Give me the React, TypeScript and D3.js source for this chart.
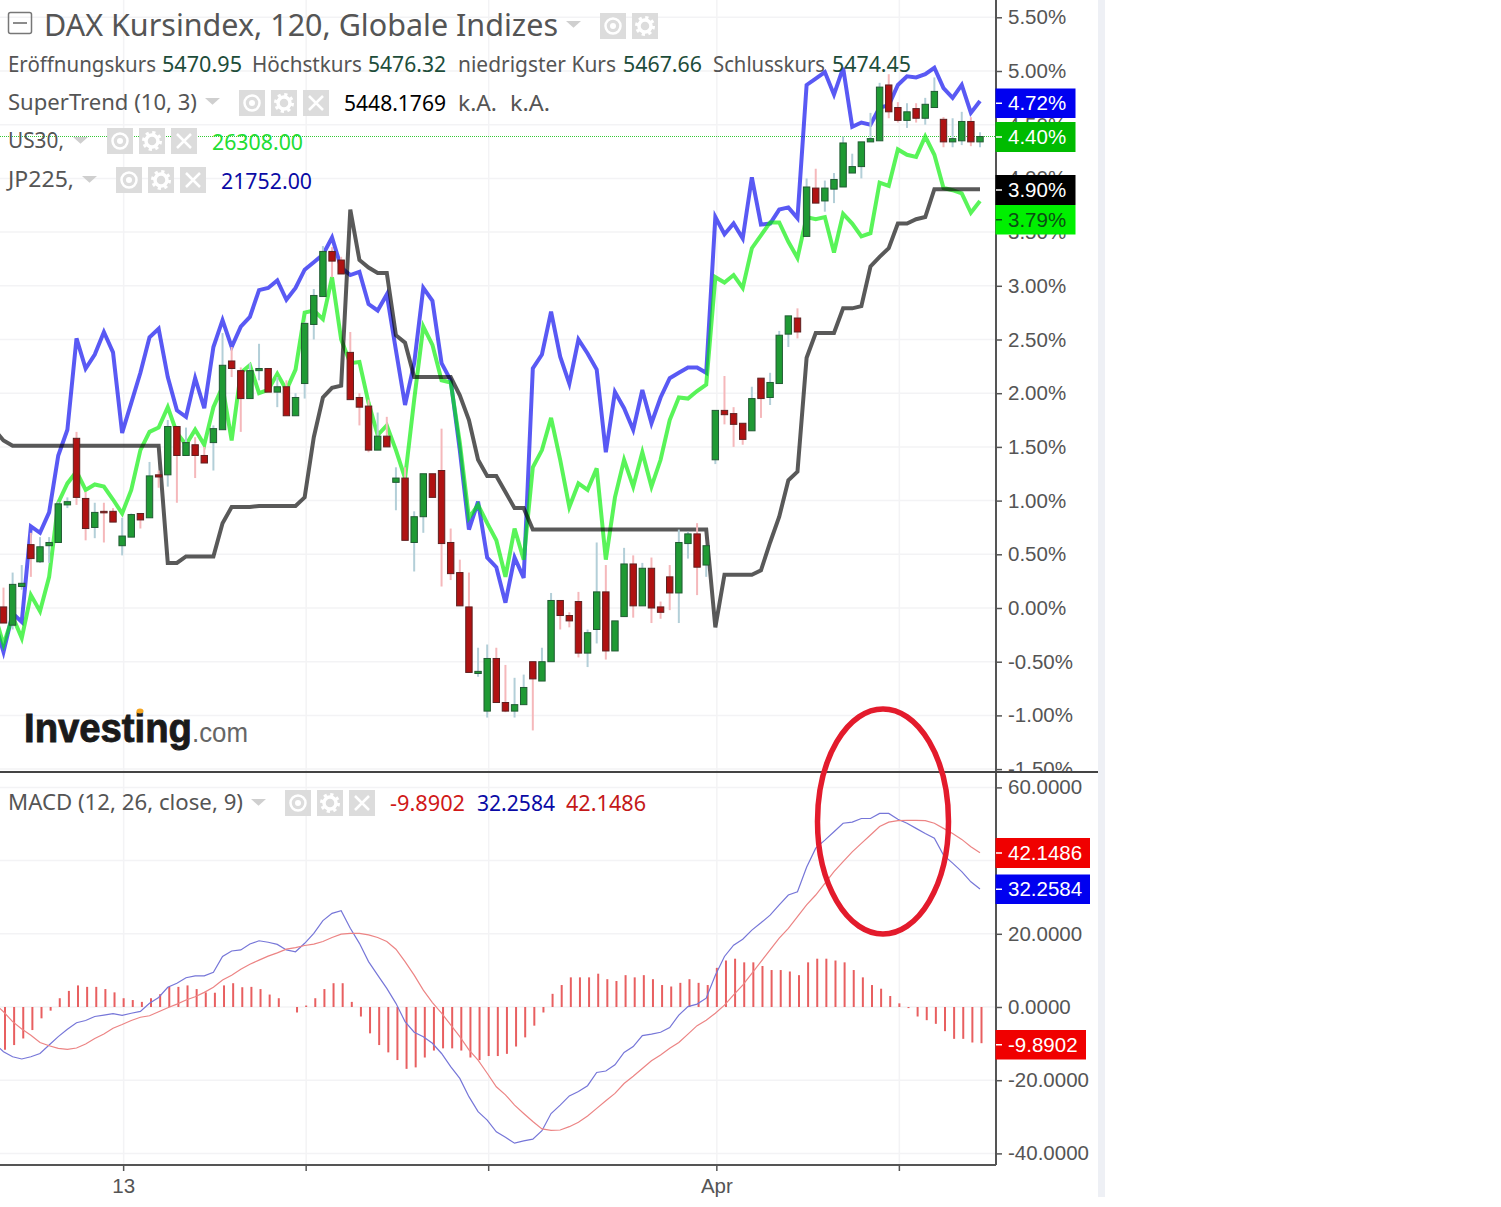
import { useEffect, useRef } from "react";
import * as d3 from "d3";

const WIDTH = 1501;
const HEIGHT = 1207;

// DAX candles, % change scale
const opens = [
  0.01, -0.16, 0.2, 0.59, 0.43, 0.58, 0.61, 0.96, 1.58, 1.02,
  0.75, 0.9, 0.9, 0.58, 0.66, 0.88, 0.84, 1.24, 1.24, 1.69,
  1.42, 1.52, 1.42, 1.54, 1.66, 2.3, 2.21, 1.95, 2.21, 2.23,
  2.01, 2.06, 1.79, 2.09, 2.64, 2.9, 3.32, 3.24, 2.38, 1.96,
  1.88, 1.47, 1.6, 1.17, 1.21, 0.61, 0.85, 1.25, 1.28, 0.61,
  0.33, 0.01, -0.61, -0.96, -0.47, -0.88, -0.96, -0.9, -0.5, -0.68,
  -0.5, 0.07, -0.07, 0.06, -0.42, -0.2, 0.15, -0.4, -0.08, 0.41,
  0.02, 0.37, 0.01, 0.29, 0.14, 0.6, 0.69, 0.4, 1.38, 1.84,
  1.81, 1.72, 1.65, 2.14, 1.96, 2.09, 2.55, 2.7, 3.46, 3.91,
  3.79, 3.9, 3.92, 4.05, 4.11, 4.34, 4.35, 4.87, 4.66, 4.54,
  4.65, 4.56, 4.66, 4.55, 4.34, 4.35, 4.53, 4.34,
];
const highs = [
  0.19, 0.33, 0.4, 0.7, 0.66, 0.66, 0.99, 1.03, 1.64, 1.08,
  0.98, 0.98, 0.93, 0.84, 0.88, 0.88, 1.36, 1.28, 1.75, 1.69,
  1.68, 1.59, 1.5, 1.7, 2.56, 2.43, 2.24, 2.28, 2.46, 2.23,
  2.15, 2.12, 2.0, 2.66, 2.97, 3.37, 3.36, 3.27, 2.57, 2.0,
  1.94, 1.82, 1.78, 1.31, 1.31, 0.9, 1.25, 1.25, 1.67, 0.74,
  0.45, 0.33, -0.37, -0.34, -0.37, -0.53, -0.65, -0.62, -0.5, -0.37,
  0.14, 0.07, -0.04, 0.15, -0.2, 0.61, 0.4, -0.12, 0.56, 0.49,
  0.42, 0.47, 0.06, 0.4, 0.73, 0.71, 0.79, 0.58, 1.84, 2.16,
  1.87, 1.72, 2.06, 2.14, 2.19, 2.58, 2.72, 2.79, 4.0, 4.09,
  3.98, 4.05, 4.39, 4.23, 4.34, 4.61, 4.89, 4.97, 4.71, 4.7,
  4.7, 4.75, 4.94, 4.57, 4.56, 4.62, 4.57, 4.43,
];
const lows = [
  -0.14, -0.2, 0.17, 0.29, 0.42, 0.42, 0.61, 0.93, 0.96, 0.63,
  0.65, 0.61, 0.8, 0.49, 0.66, 0.74, 0.84, 1.12, 1.13, 0.98,
  1.42, 1.21, 1.35, 1.28, 1.66, 2.15, 1.64, 1.95, 2.12, 2.01,
  1.87, 1.79, 1.79, 1.95, 2.5, 2.9, 3.08, 3.11, 1.94, 1.7,
  1.45, 1.47, 1.5, 0.91, 0.63, 0.34, 0.7, 1.03, 0.2, 0.26,
  0.02, -0.6, -0.64, -1.02, -0.88, -0.97, -1.02, -0.9, -1.14, -0.68,
  -0.5, -0.2, -0.18, -0.46, -0.55, -0.33, -0.48, -0.4, -0.08, -0.09,
  0.02, -0.14, -0.1, -0.02, -0.14, 0.46, 0.12, 0.29, 1.34, 1.71,
  1.5, 1.52, 1.65, 1.77, 1.89, 2.09, 2.43, 2.51, 3.46, 3.77,
  3.69, 3.77, 3.92, 4.05, 4.0, 4.34, 4.35, 4.56, 4.52, 4.47,
  4.52, 4.5, 4.66, 4.29, 4.29, 4.31, 4.3, 4.29,
];
const closes = [
  -0.14, 0.22, 0.23, 0.46, 0.57, 0.61, 0.97, 0.99, 1.03, 0.74,
  0.89, 0.89, 0.8, 0.67, 0.87, 0.82, 1.23, 1.22, 1.69, 1.42,
  1.54, 1.42, 1.35, 1.67, 2.26, 2.23, 1.95, 2.21, 2.23, 2.01,
  2.06, 1.79, 1.96, 2.65, 2.91, 3.32, 3.23, 3.11, 1.94, 1.87,
  1.47, 1.6, 1.5, 1.21, 0.63, 0.85, 1.25, 1.03, 0.6, 0.32,
  0.02, -0.6, -0.59, -0.47, -0.88, -0.96, -0.9, -0.74, -0.66, -0.5,
  0.07, -0.07, -0.12, -0.42, -0.23, 0.15, -0.4, -0.12, 0.41, 0.02,
  0.37, 0.0, -0.04, 0.14, 0.61, 0.69, 0.38, 0.58, 1.84, 1.8,
  1.71, 1.57, 1.95, 1.95, 2.1, 2.54, 2.72, 2.57, 3.92, 3.77,
  3.91, 3.99, 4.33, 4.11, 4.34, 4.37, 4.85, 4.62, 4.54, 4.62,
  4.56, 4.69, 4.81, 4.34, 4.37, 4.53, 4.34, 4.39,
];

// the line series start one bar before the first visible candle
const jp225 = [
  -0.12, -0.41, -0.05, -0.13, 0.76, 0.7, 0.89, 1.42, 1.66, 2.51, 2.23,
  2.36, 2.57, 2.38, 1.63, 1.91, 2.19, 2.52, 2.6, 2.15, 1.84,
  1.78, 2.14, 1.86, 2.43, 2.68, 2.43, 2.62, 2.71, 2.96, 2.98,
  3.05, 2.87, 2.98, 3.15, 3.22, 3.29, 3.45, 3.17, 3.1, 3.13,
  2.83, 2.77, 2.92, 2.4, 1.89, 2.28, 2.98, 2.86, 2.28, 2.12,
  1.47, 0.73, 0.99, 0.47, 0.38, 0.05, 0.47, 0.28, 2.23, 2.36,
  2.76, 2.34, 2.09, 2.5, 2.37, 2.22, 1.45, 2.01, 1.86, 1.66,
  2.03, 1.72, 1.96, 2.14, 2.19, 2.24, 2.24, 2.19, 3.64, 3.48,
  3.58, 3.44, 4.01, 3.57, 3.58, 3.71, 3.73, 3.63, 4.87, 4.93,
  4.99, 4.78, 5.03, 4.48, 4.52, 4.5, 4.66, 4.68, 4.87, 4.95,
  4.94, 4.97, 5.03, 4.84, 4.75, 4.87, 4.61, 4.72,
];
const us30 = [
  -0.05, -0.34, -0.08, -0.28, 0.12, -0.03, 0.29, 0.98, 1.16, 1.27, 1.1,
  1.15, 1.13, 1.01, 0.88, 1.1, 1.47, 1.64, 1.68, 1.87, 1.63,
  1.52, 1.66, 1.52, 1.87, 2.06, 1.56, 2.19, 2.26, 2.0, 2.03,
  2.18, 2.03, 2.22, 2.75, 2.77, 2.69, 3.08, 2.5, 2.28, 2.29,
  1.91, 1.61, 1.7, 1.47, 1.21, 1.94, 2.62, 2.45, 2.12, 2.1,
  1.54, 0.84, 0.96, 0.79, 0.63, 0.29, 0.74, 0.45, 1.31, 1.47,
  1.77, 1.38, 0.94, 1.16, 1.1, 1.3, 0.45, 1.03, 1.38, 1.13,
  1.45, 1.13, 1.38, 1.75, 1.96, 1.95, 2.02, 2.08, 3.08, 3.03,
  3.1, 2.98, 3.35, 3.47, 3.59, 3.59, 3.41, 3.26, 3.64, 3.62,
  3.64, 3.31, 3.67, 3.58, 3.46, 3.49, 3.96, 3.93, 4.27, 4.22,
  4.2, 4.39, 4.22, 3.91, 3.89, 3.86, 3.68, 3.79,
];
const superTrend = [
  1.66, 1.56, 1.51, 1.51, 1.51, 1.51, 1.51, 1.51, 1.51, 1.51, 1.51,
  1.51, 1.51, 1.51, 1.51, 1.51, 1.51, 1.51, 1.51, 0.42, 0.42,
  0.48, 0.48, 0.48, 0.48, 0.79, 0.94, 0.94, 0.94, 0.95, 0.95,
  0.95, 0.95, 0.95, 1.03, 1.59, 1.96, 2.05, 2.07, 3.71, 3.24,
  3.17, 3.12, 3.12, 2.54, 2.47, 2.15, 2.15, 2.15, 2.15, 2.15,
  1.98, 1.75, 1.38, 1.23, 1.23, 1.08, 0.93, 0.93, 0.73, 0.73,
  0.73, 0.73, 0.73, 0.73, 0.73, 0.73, 0.73, 0.73, 0.73, 0.73,
  0.73, 0.73, 0.73, 0.73, 0.73, 0.73, 0.73, 0.73, -0.18, 0.31,
  0.31, 0.31, 0.31, 0.35, 0.61, 0.85, 1.19, 1.27, 2.33, 2.56,
  2.56, 2.56, 2.79, 2.79, 2.81, 3.18, 3.27, 3.35, 3.58, 3.58,
  3.62, 3.64, 3.9, 3.9, 3.9, 3.9, 3.9, 3.9,
];

const macd = [
  -10.0, -12.2, -13.6, -14.2, -13.6, -12.7, -10.4, -8.1, -6.1, -4.3, -3.7,
  -2.6, -2.2, -1.8, -2.3, -1.7, -1.2, 1.0, 2.6, 5.4, 6.5,
  8.0, 8.5, 8.5, 9.5, 13.8, 15.3, 15.6, 17.2, 18.1, 17.7,
  17.1, 15.6, 15.1, 17.4, 20.1, 23.6, 25.6, 26.3, 21.5, 17.4,
  12.4, 8.7, 5.1, 1.0, -4.0, -6.9, -8.1, -9.9, -12.7, -16.3,
  -19.5, -24.5, -28.6, -30.9, -34.1, -35.6, -37.2, -36.6, -36.1, -33.8,
  -29.1, -26.8, -24.3, -23.1, -21.5, -17.9, -17.5, -15.8, -12.4, -10.8,
  -7.8, -7.4, -6.9, -5.6, -2.2, 0.1, 0.8, 2.4, 8.7, 13.8,
  16.9, 18.5, 21.0, 23.0, 25.1, 27.9, 30.6, 31.5, 38.2, 43.4,
  45.6, 47.9, 50.2, 50.5, 51.5, 51.5, 52.9, 52.9, 51.3, 50.2,
  48.8, 47.4, 46.1, 41.5, 39.3, 37.0, 34.2, 32.26,
];
const signal = [
  1.0, -1.3, -4.0, -6.0, -7.7, -9.7, -10.6, -11.3, -11.6, -11.2, -10.1,
  -8.6, -7.4, -5.8, -4.8, -3.7, -2.8, -2.4, -1.3, -0.2, 0.8,
  1.9, 2.8, 4.0, 5.4, 7.4, 8.7, 10.3, 11.7, 12.8, 13.9,
  14.8, 15.8, 16.2, 16.8, 17.2, 17.9, 19.0, 19.9, 20.1, 20.1,
  19.7, 19.0, 17.9, 15.8, 12.4, 8.7, 4.6, 1.2, -1.7, -4.9,
  -8.1, -11.7, -14.5, -18.1, -21.8, -24.0, -26.8, -29.1, -31.3, -33.3,
  -33.7, -33.6, -32.7, -31.5, -29.8, -27.7, -25.6, -23.6, -20.9, -18.9,
  -16.8, -14.7, -13.1, -11.3, -9.7, -7.4, -5.1, -3.6, -1.7, 0.5,
  3.3, 6.0, 9.2, 12.4, 15.6, 18.8, 21.5, 24.7, 27.9, 30.6,
  33.8, 37.0, 39.7, 42.4, 44.7, 47.0, 49.3, 50.5, 50.9, 51.0,
  51.0, 50.9, 50.2, 48.8, 47.4, 45.8, 43.8, 42.15,
];
const histogram = [
  -11.7, -10.4, -8.6, -6.3, -3.1, -1.0, 2.4, 4.4, 5.9, 5.5,
  5.5, 4.9, 4.0, 2.4, 1.9, 1.4, 2.4, 3.5, 5.5, 5.5,
  5.9, 4.9, 4.0, 3.9, 5.9, 6.5, 5.4, 5.5, 4.9, 3.4,
  2.4, 0.0, -1.5, 0.4, 2.4, 4.9, 6.5, 6.5, 1.4, -2.6,
  -7.2, -10.4, -12.4, -14.5, -16.9, -16.5, -13.8, -11.9, -11.3, -11.3,
  -11.9, -13.8, -14.5, -13.4, -13.4, -12.8, -10.8, -8.3, -5.1, -1.5,
  3.6, 6.0, 8.1, 8.1, 8.1, 9.1, 7.6, 7.1, 8.7, 8.1,
  8.7, 7.6, 6.0, 5.6, 6.6, 7.6, 6.6, 6.0, 10.7, 12.7,
  13.2, 12.2, 12.2, 11.2, 10.1, 10.1, 9.7, 8.7, 12.2, 13.2,
  13.2, 12.7, 12.2, 10.1, 8.1, 6.0, 5.0, 3.0, 1.0, -0.3,
  -2.6, -3.6, -4.6, -6.6, -8.7, -8.7, -9.7, -9.89,
];

const priceTicks = [5.5, 5, 4.5, 4, 3.5, 3, 2.5, 2, 1.5, 1, 0.5, 0, -0.5, -1, -1.5];
const macdTicks = [60, 40, 20, 0, -20, -40];
const timeTicks = [13, 33, 53, 78, 98];
const timeLabels: Record<number, string> = { 13: "13", 78: "Apr" };

const LEGEND_FONT = "'Noto Sans', sans-serif";
const AXIS_FONT = "'Liberation Sans', Arial, sans-serif";
const TEXT = "#555555";
const OHLC = "#1d4d3a";

export default function App() {
  const svgRef = useRef<SVGSVGElement>(null);

  useEffect(() => {
    if (!svgRef.current) return;
    const svg = d3.select(svgRef.current);
    svg.selectAll("*").remove();

    const x = d3.scaleLinear().domain([0, 107]).range([3.5, 980]);
    const yPrice = d3.scaleLinear().domain([-1.5, 5.5]).range([769.1, 17.3]);
    const yMacd = d3.scaleLinear().domain([-40, 60]).range([1153.4, 787.4]);
    const xTick = (i: number) => x(i) + 1.5;
    const axisX = 996;
    const sepY = 772;
    const bottomY = 1165;

    const defs = svg.append("defs");
    defs.append("clipPath").attr("id", "priceClip")
      .append("rect").attr("x", 0).attr("y", 0).attr("width", 1098).attr("height", sepY);
    defs.append("clipPath").attr("id", "plotClip")
      .append("rect").attr("x", 0).attr("y", 0).attr("width", axisX).attr("height", sepY);

    svg.append("rect").attr("width", WIDTH).attr("height", HEIGHT).attr("fill", "#fff");
    svg.append("rect").attr("x", 1098).attr("y", 0).attr("width", 7).attr("height", 1197).attr("fill", "#eef0f5");

    // grid
    const grid = svg.append("g").attr("stroke", "#f3f3f5").attr("stroke-width", 1.5);
    priceTicks.forEach((t) => {
      grid.append("line").attr("x1", 0).attr("x2", axisX).attr("y1", yPrice(t)).attr("y2", yPrice(t));
    });
    macdTicks.forEach((t) => {
      grid.append("line").attr("x1", 0).attr("x2", axisX).attr("y1", yMacd(t)).attr("y2", yMacd(t));
    });
    timeTicks.forEach((t) => {
      grid.append("line").attr("x1", xTick(t)).attr("x2", xTick(t)).attr("y1", 0).attr("y2", bottomY);
    });

    // last price dotted line
    svg.append("line")
      .attr("x1", 0).attr("x2", axisX)
      .attr("y1", yPrice(closes[107])).attr("y2", yPrice(closes[107]))
      .attr("stroke", "#35c935").attr("stroke-width", 1).attr("stroke-dasharray", "1 1");

    // price lines
    const plot = svg.append("g").attr("clip-path", "url(#plotClip)");
    const priceLine = d3.line<number>().x((_, i) => x(i - 1)).y((d) => yPrice(d));
    const drawPrice = (values: number[], color: string) => {
      plot.append("path")
        .attr("d", priceLine(values))
        .attr("fill", "none")
        .attr("stroke", color)
        .attr("stroke-opacity", 0.65)
        .attr("stroke-width", 4);
    };
    drawPrice(jp225, "#0000ee");
    drawPrice(us30, "#00ee00");
    drawPrice(superTrend, "#000");

    // candles
    const candles = plot.append("g");
    opens.forEach((o, i) => {
      const c = closes[i];
      const up = c >= o;
      candles.append("line")
        .attr("x1", x(i)).attr("x2", x(i))
        .attr("y1", yPrice(highs[i])).attr("y2", yPrice(lows[i]))
        .attr("stroke", up ? "#b3cfd8" : "#f5b8bb")
        .attr("stroke-width", 2);
      const top = yPrice(Math.max(o, c));
      const bot = yPrice(Math.min(o, c));
      candles.append("rect")
        .attr("x", x(i) - 3.2)
        .attr("y", top)
        .attr("width", 6.4)
        .attr("height", Math.max(bot - top, 1.5))
        .attr("fill", up ? "#1f9a34" : "#b01212")
        .attr("stroke", up ? "#215b33" : "#5e2020")
        .attr("stroke-width", 1);
    });

    // macd histogram and lines
    const hist = svg.append("g");
    histogram.forEach((v, i) => {
      hist.append("line")
        .attr("x1", xTick(i)).attr("x2", xTick(i))
        .attr("y1", yMacd(0)).attr("y2", yMacd(v))
        .attr("stroke", "#e85f60")
        .attr("stroke-width", 2);
    });
    const macdLine = d3.line<number>().x((_, i) => x(i - 1)).y((d) => yMacd(d));
    svg.append("path").attr("d", macdLine(macd)).attr("fill", "none").attr("stroke", "#7676d8").attr("stroke-width", 1.2);
    svg.append("path").attr("d", macdLine(signal)).attr("fill", "none").attr("stroke", "#ec8484").attr("stroke-width", 1.2);

    // axes
    const styleAxis = (g: d3.Selection<SVGGElement, unknown, null, undefined>) => {
      g.select(".domain").remove();
      g.selectAll("line").attr("stroke", TEXT).attr("stroke-width", 1.5);
      g.selectAll("text").attr("fill", TEXT).style("font", `20.5px ${AXIS_FONT}`);
    };
    svg.append("g")
      .attr("clip-path", "url(#priceClip)")
      .append("g")
      .attr("transform", `translate(${axisX},0)`)
      .call(d3.axisRight(yPrice).tickValues(priceTicks).tickSize(6).tickPadding(6).tickFormat((d) => `${(+d).toFixed(2)}%`))
      .call(styleAxis);
    // the 40 label sits completely behind the signal value box, so it is left blank
    svg.append("g")
      .attr("transform", `translate(${axisX},0)`)
      .call(d3.axisRight(yMacd).tickValues(macdTicks).tickSize(6).tickPadding(6).tickFormat((d) => (+d === 40 ? "" : (+d).toFixed(4))))
      .call(styleAxis);
    svg.append("g")
      .attr("transform", `translate(0,${bottomY})`)
      .call(d3.axisBottom(d3.scaleLinear().domain([0, 107]).range([4.5, 981])).tickValues(timeTicks).tickSize(6).tickPadding(7).tickFormat((d) => timeLabels[+d] ?? ""))
      .call(styleAxis);

    const rule = (x1: number, y1: number, x2: number, y2: number, color = TEXT, w = 2) =>
      svg.append("line").attr("x1", x1).attr("y1", y1).attr("x2", x2).attr("y2", y2).attr("stroke", color).attr("stroke-width", w);
    rule(axisX, 0, axisX, bottomY);
    rule(0, bottomY, axisX, bottomY);
    rule(0, sepY, 1098, sepY, "#444");

    // last value boxes
    const box = (y0: number, y1: number, right: number, fill: string, label: string, color = "#fff") => {
      svg.append("rect").attr("x", axisX - 0.5).attr("y", y0).attr("width", right - axisX + 0.5).attr("height", y1 - y0).attr("fill", fill);
      rule(axisX, (y0 + y1) / 2, axisX + 6, (y0 + y1) / 2, color, 1.5);
      svg.append("text").attr("x", 1008).attr("y", (y0 + y1) / 2 + 7).attr("fill", color)
        .style("font", `20.5px ${AXIS_FONT}`).text(label);
    };
    box(88.5, 118, 1075.5, "#0000f0", "4.72%");
    box(122, 152, 1075.5, "#00bb00", "4.40%");
    box(175, 205, 1075.5, "#000", "3.90%");
    box(205, 234.5, 1075.5, "#00f000", "3.79%", "#0b4d14");
    box(838, 868, 1090, "#f00000", "42.1486");
    box(874.5, 904, 1090, "#0000f0", "32.2584");
    box(1030, 1059.5, 1086, "#f00000", "-9.8902");

    // legend
    const label = (px: number, py: number, str: string, width: number, size: number, color: string) => {
      svg.append("text")
        .attr("x", px).attr("y", py)
        .attr("fill", color)
        .attr("textLength", width)
        .attr("lengthAdjust", "spacingAndGlyphs")
        .style("font", `${size}px ${LEGEND_FONT}`)
        .text(str);
    };
    const caret = (px: number, py: number, w: number) => {
      svg.append("path")
        .attr("d", `M${px},${py}h${w}l${-w / 2},${w * 0.45}z`)
        .attr("fill", "#cfcfcf");
    };
    const button = (px: number, py: number, kind: "eye" | "gear" | "close") => {
      const g = svg.append("g").attr("transform", `translate(${px},${py})`);
      g.append("rect").attr("width", 26).attr("height", 26).attr("fill", "#dcdcdc");
      if (kind === "eye") {
        g.append("circle").attr("cx", 13).attr("cy", 13).attr("r", 7.5).attr("fill", "none").attr("stroke", "#fff").attr("stroke-width", 2.5);
        g.append("circle").attr("cx", 13).attr("cy", 13).attr("r", 3).attr("fill", "#fff");
      } else if (kind === "gear") {
        g.append("circle").attr("cx", 13).attr("cy", 13).attr("r", 6).attr("fill", "none").attr("stroke", "#fff").attr("stroke-width", 3.5);
        g.append("circle").attr("cx", 13).attr("cy", 13).attr("r", 8.5).attr("fill", "none").attr("stroke", "#fff").attr("stroke-width", 3).attr("stroke-dasharray", "3.2 3.47");
      } else {
        g.append("path").attr("d", "M6,6L20,20M20,6L6,20").attr("stroke", "#fff").attr("stroke-width", 2.5);
      }
    };

    svg.append("rect").attr("x", 8.5).attr("y", 12.5).attr("width", 23).attr("height", 21).attr("rx", 2).attr("fill", "none").attr("stroke", "#777").attr("stroke-width", 1.5);
    rule(13, 23, 27, 23, "#666", 1.5);
    label(44, 36, "DAX Kursindex, 120, Globale Indizes", 514, 30, TEXT);
    caret(566, 21, 15);
    button(600, 13, "eye");
    button(632, 13, "gear");

    label(8, 72, "Eröffnungskurs", 148, 22, TEXT);
    label(162, 72, "5470.95", 80, 22, OHLC);
    label(252, 72, "Höchstkurs", 110, 22, TEXT);
    label(368, 72, "5476.32", 78, 22, OHLC);
    label(458, 72, "niedrigster Kurs", 158, 22, TEXT);
    label(623, 72, "5467.66", 79, 22, OHLC);
    label(713, 72, "Schlusskurs", 112, 22, TEXT);
    label(832, 72, "5474.45", 79, 22, OHLC);

    label(8, 110, "SuperTrend (10, 3)", 189, 22, TEXT);
    caret(205, 98, 15);
    button(239, 90, "eye");
    button(271, 90, "gear");
    button(303, 90, "close");
    label(344, 111, "5448.1769", 102, 22, "#000");
    label(458, 111, "k.A.", 39, 22, TEXT);
    label(510, 111, "k.A.", 40, 22, TEXT);

    label(8, 148, "US30,", 56, 22, TEXT);
    caret(73, 137, 15);
    button(107, 128, "eye");
    button(139, 128, "gear");
    button(171, 128, "close");
    label(212, 150, "26308.00", 91, 22, "#22dd33");

    label(8, 187, "JP225,", 66, 22, TEXT);
    caret(82, 176, 15);
    button(116, 167, "eye");
    button(148, 167, "gear");
    button(180, 167, "close");
    label(221, 189, "21752.00", 91, 22, "#0a0aa5");

    label(8, 810, "MACD (12, 26, close, 9)", 235, 22, TEXT);
    caret(251, 799, 15);
    button(285, 790, "eye");
    button(317, 790, "gear");
    button(349, 790, "close");
    label(390, 811, "-9.8902", 75, 22, "#d01818");
    label(477, 811, "32.2584", 78, 22, "#0a0aa5");
    label(566, 811, "42.1486", 80, 22, "#c41818");

    // logo
    svg.append("text").attr("x", 24).attr("y", 742).attr("fill", "#1a1a1a")
      .attr("stroke", "#1a1a1a").attr("stroke-width", 0.9)
      .attr("textLength", 168).attr("lengthAdjust", "spacingAndGlyphs")
      .style("font", `bold 40px ${AXIS_FONT}`).text("Investing");
    svg.append("text").attr("x", 192).attr("y", 742).attr("fill", "#666")
      .attr("textLength", 56).attr("lengthAdjust", "spacingAndGlyphs")
      .style("font", `28px ${AXIS_FONT}`).text(".com");
    svg.append("ellipse").attr("cx", 140).attr("cy", 711).attr("rx", 3.5).attr("ry", 2.5).attr("fill", "#f5a623");

    // hand drawn circle
    svg.append("ellipse").attr("cx", 883).attr("cy", 821.5).attr("rx", 65.5).attr("ry", 112.5)
      .attr("fill", "none").attr("stroke", "#e31b2c").attr("stroke-width", 5.5);
  }, []);

  return (
    <svg
      ref={svgRef}
      width={WIDTH}
      height={HEIGHT}
      style={{ position: "absolute", left: 0, top: 0 }}
    />
  );
}
